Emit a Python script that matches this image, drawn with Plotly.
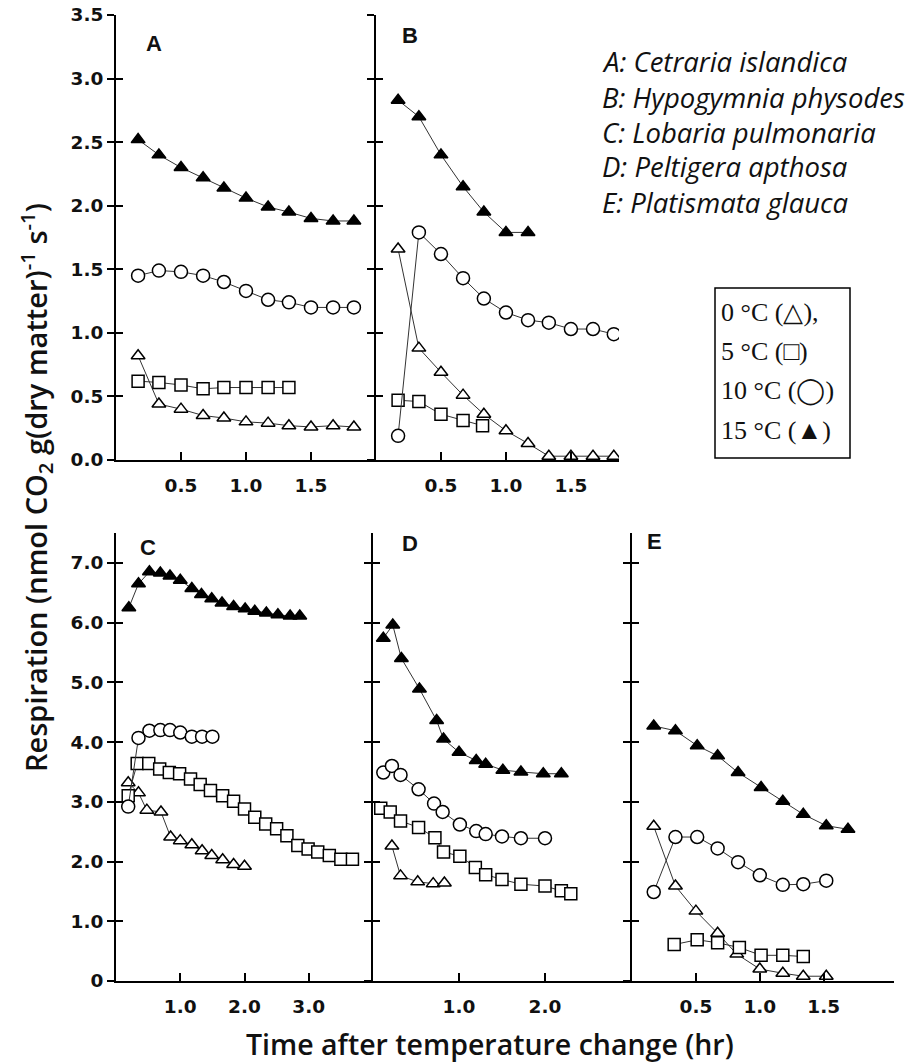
import plotly.graph_objects as go

# ---------------- data (hr, nmol CO2 g^-1 s^-1) ----------------
A_x15 = [0.17, 0.33, 0.5, 0.67, 0.83, 1.0, 1.17, 1.33, 1.5, 1.67, 1.83]
A_y15 = [2.52, 2.40, 2.30, 2.22, 2.14, 2.06, 1.99, 1.95, 1.90, 1.88, 1.88]
A_x10 = [0.17, 0.33, 0.5, 0.67, 0.83, 1.0, 1.17, 1.33, 1.5, 1.67, 1.83]
A_y10 = [1.45, 1.49, 1.48, 1.45, 1.40, 1.33, 1.26, 1.24, 1.20, 1.20, 1.20]
A_x5 = [0.17, 0.33, 0.5, 0.67, 0.83, 1.0, 1.17, 1.33]
A_y5 = [0.62, 0.61, 0.59, 0.56, 0.57, 0.57, 0.57, 0.57]
A_x0 = [0.17, 0.33, 0.5, 0.67, 0.83, 1.0, 1.17, 1.33, 1.5, 1.67, 1.83]
A_y0 = [0.82, 0.44, 0.40, 0.35, 0.33, 0.30, 0.29, 0.27, 0.26, 0.27, 0.26]

B_x15 = [0.17, 0.33, 0.5, 0.67, 0.83, 1.0, 1.17]
B_y15 = [2.83, 2.70, 2.40, 2.15, 1.95, 1.79, 1.79]
B_x10 = [0.17, 0.33, 0.5, 0.67, 0.83, 1.0, 1.17, 1.33, 1.5, 1.67, 1.83]
B_y10 = [0.19, 1.79, 1.62, 1.43, 1.27, 1.16, 1.10, 1.08, 1.03, 1.03, 0.99]
B_x5 = [0.17, 0.33, 0.5, 0.67, 0.82]
B_y5 = [0.47, 0.46, 0.36, 0.31, 0.27]
B_x0 = [0.17, 0.33, 0.5, 0.67, 0.83, 1.0, 1.17, 1.33, 1.5, 1.67, 1.83]
B_y0 = [1.66, 0.88, 0.69, 0.51, 0.36, 0.23, 0.13, 0.03, 0.03, 0.03, 0.03]

C_x15 = [0.2, 0.35, 0.52, 0.69, 0.84, 1.0, 1.18, 1.33, 1.49, 1.65, 1.83, 2.01, 2.16,
         2.34, 2.52, 2.71, 2.86]
C_y15 = [6.25, 6.65, 6.85, 6.83, 6.78, 6.71, 6.57, 6.47, 6.40, 6.33, 6.27, 6.23, 6.19,
         6.16, 6.13, 6.11, 6.11]
C_x10 = [0.19, 0.35, 0.52, 0.69, 0.84, 1.0, 1.18, 1.34, 1.5]
C_y10 = [2.92, 4.07, 4.19, 4.20, 4.20, 4.16, 4.09, 4.09, 4.09]
C_x5 = [0.19, 0.33, 0.51, 0.68, 0.83, 0.99, 1.16, 1.31, 1.47, 1.66, 1.83, 2.0, 2.16,
        2.33, 2.5, 2.66, 2.83, 2.99, 3.14, 3.32, 3.5, 3.68]
C_y5 = [3.10, 3.64, 3.64, 3.55, 3.49, 3.47, 3.38, 3.29, 3.19, 3.10, 3.01, 2.88, 2.74,
        2.63, 2.55, 2.43, 2.27, 2.21, 2.16, 2.10, 2.04, 2.04]
C_x0 = [0.19, 0.35, 0.48, 0.7, 0.85, 1.0, 1.18, 1.34, 1.49, 1.66, 1.83, 2.0]
C_y0 = [3.32, 3.15, 2.86, 2.83, 2.41, 2.35, 2.28, 2.18, 2.10, 2.03, 1.95, 1.92]

D_x15 = [0.12, 0.23, 0.33, 0.54, 0.74, 0.82, 1.0, 1.2, 1.31, 1.51, 1.72, 1.98, 2.19]
D_y15 = [5.74, 5.96, 5.40, 4.89, 4.36, 4.05, 3.83, 3.69, 3.63, 3.53, 3.50, 3.47, 3.47]
D_x10 = [0.12, 0.22, 0.32, 0.53, 0.71, 0.81, 1.01, 1.2, 1.31, 1.5, 1.72, 2.0]
D_y10 = [3.49, 3.60, 3.45, 3.21, 2.97, 2.83, 2.62, 2.51, 2.46, 2.42, 2.39, 2.39]
D_x5 = [0.09, 0.2, 0.32, 0.53, 0.72, 0.82, 1.01, 1.19, 1.31, 1.5, 1.72, 2.0, 2.19, 2.3]
D_y5 = [2.89, 2.83, 2.68, 2.57, 2.40, 2.16, 2.09, 1.90, 1.78, 1.70, 1.62, 1.59, 1.51, 1.46]
D_x0 = [0.22, 0.32, 0.52, 0.7, 0.83]
D_y0 = [2.26, 1.76, 1.66, 1.63, 1.64]

E_x15 = [0.17, 0.34, 0.51, 0.67, 0.83, 1.01, 1.18, 1.34, 1.52, 1.69]
E_y15 = [4.27, 4.19, 3.94, 3.77, 3.49, 3.24, 3.01, 2.79, 2.60, 2.54]
E_x10 = [0.17, 0.34, 0.51, 0.67, 0.83, 1.0, 1.18, 1.34, 1.52]
E_y10 = [1.49, 2.41, 2.41, 2.22, 1.99, 1.77, 1.61, 1.62, 1.68]
E_x5 = [0.33, 0.51, 0.67, 0.84, 1.01, 1.18, 1.34]
E_y5 = [0.61, 0.69, 0.64, 0.56, 0.43, 0.43, 0.41]
E_x0 = [0.17, 0.34, 0.5, 0.67, 0.82, 1.0, 1.18, 1.34, 1.52]
E_y0 = [2.59, 1.59, 1.17, 0.80, 0.45, 0.20, 0.13, 0.08, 0.08]

panel_letters = ["A", "B", "C", "D", "E"]
species = ["A: Cetraria islandica", "B: Hypogymnia physodes", "C: Lobaria pulmonaria",
           "D: Peltigera apthosa", "E: Platismata glauca"]
temp_labels = ["0 °C (△),", "5 °C (□)", "10 °C (◯)", "15 °C (▲)"]

top_yticks = [0.0, 0.5, 1.0, 1.5, 2.0, 2.5, 3.0, 3.5]
top_yticktext = ["0.0", "0.5", "1.0", "1.5", "2.0", "2.5", "3.0", "3.5"]
bot_yticks = [0, 1, 2, 3, 4, 5, 6, 7]
bot_yticktext = ["0", "1.0", "2.0", "3.0", "4.0", "5.0", "6.0", "7.0"]
bot_inner_ticks = [0, 1, 2, 3, 4, 5, 6, 7, 7.5]

# ---------------- layout geometry ----------------
W, H = 912, 1063
def px(v): return v / W
def py(v): return 1 - v / H

panels = {
    # name: (xaxis, yaxis, x-domain px, y-domain px, xrange, xticks, xticktext)
    "A": ("x", "y", (116, 376), (15, 460), [0, 2.0], [0.5, 1.0, 1.5], ["0.5", "1.0", "1.5"]),
    "B": ("x2", "y2", (376, 619), (15, 460), [0, 1.87], [0.5, 1.0, 1.5], ["0.5", "1.0", "1.5"]),
    "C": ("x3", "y3", (116, 373), (533, 981), [0, 4.0], [1.0, 2.0, 3.0], ["1.0", "2.0", "3.0"]),
    "D": ("x4", "y4", (373, 631), (533, 981), [0, 3.0], [1.0, 2.0], ["1.0", "2.0"]),
    "E": ("x5", "y5", (632, 894), (533, 981), [0, 2.05], [0.5, 1.0, 1.5], ["0.5", "1.0", "1.5"]),
}

data = {
    "A": [(A_x0, A_y0), (A_x5, A_y5), (A_x10, A_y10), (A_x15, A_y15)],
    "B": [(B_x0, B_y0), (B_x5, B_y5), (B_x10, B_y10), (B_x15, B_y15)],
    "C": [(C_x0, C_y0), (C_x5, C_y5), (C_x10, C_y10), (C_x15, C_y15)],
    "D": [(D_x0, D_y0), (D_x5, D_y5), (D_x10, D_y10), (D_x15, D_y15)],
    "E": [(E_x0, E_y0), (E_x5, E_y5), (E_x10, E_y10), (E_x15, E_y15)],
}

styles = [
    dict(symbol="triangle-up", color="white", size=12),   # 0 C
    dict(symbol="square", color="white", size=12),        # 5 C
    dict(symbol="circle", color="white", size=13),        # 10 C
    dict(symbol="triangle-up", color="black", size=12),   # 15 C
]

fig = go.Figure()
tickfont = dict(family="DejaVu Sans", size=18.5, color="#111", weight="bold")
layout = dict(width=W, height=H, margin=dict(l=0, r=0, t=0, b=0, autoexpand=False),
              paper_bgcolor="white", plot_bgcolor="white", showlegend=False)

for i, (name, (xa, ya, xd, yd, xr, xt, xtt)) in enumerate(panels.items()):
    for (xs, ys), st in zip(data[name], styles):
        fig.add_trace(go.Scatter(
            x=xs, y=ys, xaxis=xa, yaxis=ya, mode="lines+markers",
            line=dict(color="#333", width=1),
            marker=dict(symbol=st["symbol"], size=st["size"], color=st["color"],
                        line=dict(color="black", width=1.5)),
            hoverinfo="skip"))
    top = yd[0] < 300
    xkey = "xaxis" if xa == "x" else "xaxis" + xa[1:]
    ykey = "yaxis" if ya == "y" else "yaxis" + ya[1:]
    layout[xkey] = dict(domain=[px(xd[0]), px(xd[1])], anchor=ya, range=xr,
                        showline=True, linecolor="black", linewidth=2,
                        ticks="inside", ticklen=8, tickwidth=1.5, tickcolor="black",
                        tickvals=xt, ticktext=xtt, tickfont=tickfont,
                        ticklabelstandoff=8, showgrid=False, zeroline=False,
                        fixedrange=True)
    yt = top_yticks if top else bot_yticks
    ytt = top_yticktext if top else bot_yticktext
    layout[ykey] = dict(domain=[py(yd[1]), py(yd[0])], anchor=xa,
                        range=[0, 3.5] if top else [0, 7.5],
                        showline=True, linecolor="black", linewidth=2,
                        ticks="outside", ticklen=7, tickwidth=1.5, tickcolor="black",
                        tickvals=yt, ticktext=ytt, tickfont=tickfont,
                        showticklabels=name in ("A", "C"),
                        showgrid=False, zeroline=False, fixedrange=True)
    # overlay axis giving the inner half of the crossing ticks
    oy = "y" + str(6 + i)
    layout["yaxis" + str(6 + i)] = dict(overlaying=ya, anchor=xa, side="left",
                                        range=[0, 3.5] if top else [0, 7.5],
                                        showline=False, ticks="inside", ticklen=7,
                                        tickwidth=1.5, tickcolor="black",
                                        tickvals=top_yticks if top else bot_inner_ticks,
                                        showticklabels=False, showgrid=False,
                                        zeroline=False, fixedrange=True)
    fig.add_trace(go.Scatter(x=[None], y=[None], xaxis=xa, yaxis=oy,
                             mode="markers", hoverinfo="skip"))

fig.update_layout(**layout)

annotations = []
# panel letters
letter_pos = {"A": (154, 44), "B": (410, 35), "C": (148, 547), "D": (410, 543), "E": (654, 541)}
for L in panel_letters:
    x, y = letter_pos[L]
    annotations.append(dict(x=px(x), y=py(y), xref="paper", yref="paper", text=L,
                            showarrow=False, xanchor="center", yanchor="middle",
                            font=dict(family="Liberation Sans", size=22, color="#111",
                                      weight="bold")))
# species list
for k, s in enumerate(species):
    annotations.append(dict(x=px(600), y=py(62 + 35 * k), xref="paper", yref="paper",
                            text=s, showarrow=False, xanchor="left", yanchor="middle",
                            font=dict(family="Open Sans", size=27.5, color="#111",
                                      style="italic")))
# temperature key
for k, s in enumerate(temp_labels):
    annotations.append(dict(x=px(719), y=py(312 + 39.5 * k), xref="paper", yref="paper",
                            text=s, showarrow=False, xanchor="left", yanchor="middle",
                            font=dict(family="Liberation Serif", size=26, color="#111")))
# axis titles
annotations.append(dict(x=px(490), y=py(1044), xref="paper", yref="paper",
                        text="Time after temperature change (hr)", showarrow=False,
                        xanchor="center", yanchor="middle",
                        font=dict(family="Open Sans", size=28.5, color="#111", weight=600)))
annotations.append(dict(x=px(36), y=py(488), xref="paper", yref="paper",
                        text="Respiration (nmol CO<sub>2</sub> g(dry matter)<sup>-1</sup> s<sup>-1</sup>)",
                        showarrow=False, textangle=-90, xanchor="center", yanchor="middle",
                        font=dict(family="Open Sans", size=29, color="#111", weight=600)))

fig.update_layout(annotations=annotations,
                  shapes=[dict(type="rect", xref="paper", yref="paper",
                               x0=px(715), x1=px(850), y0=py(458), y1=py(288),
                               line=dict(color="black", width=1.5))])

fig.write_html("out.html", config={"displayModeBar": False},
               post_script="document.body.style.margin='0';"
                           "document.body.style.padding='0';"
                           "document.documentElement.style.overflow='hidden';")
